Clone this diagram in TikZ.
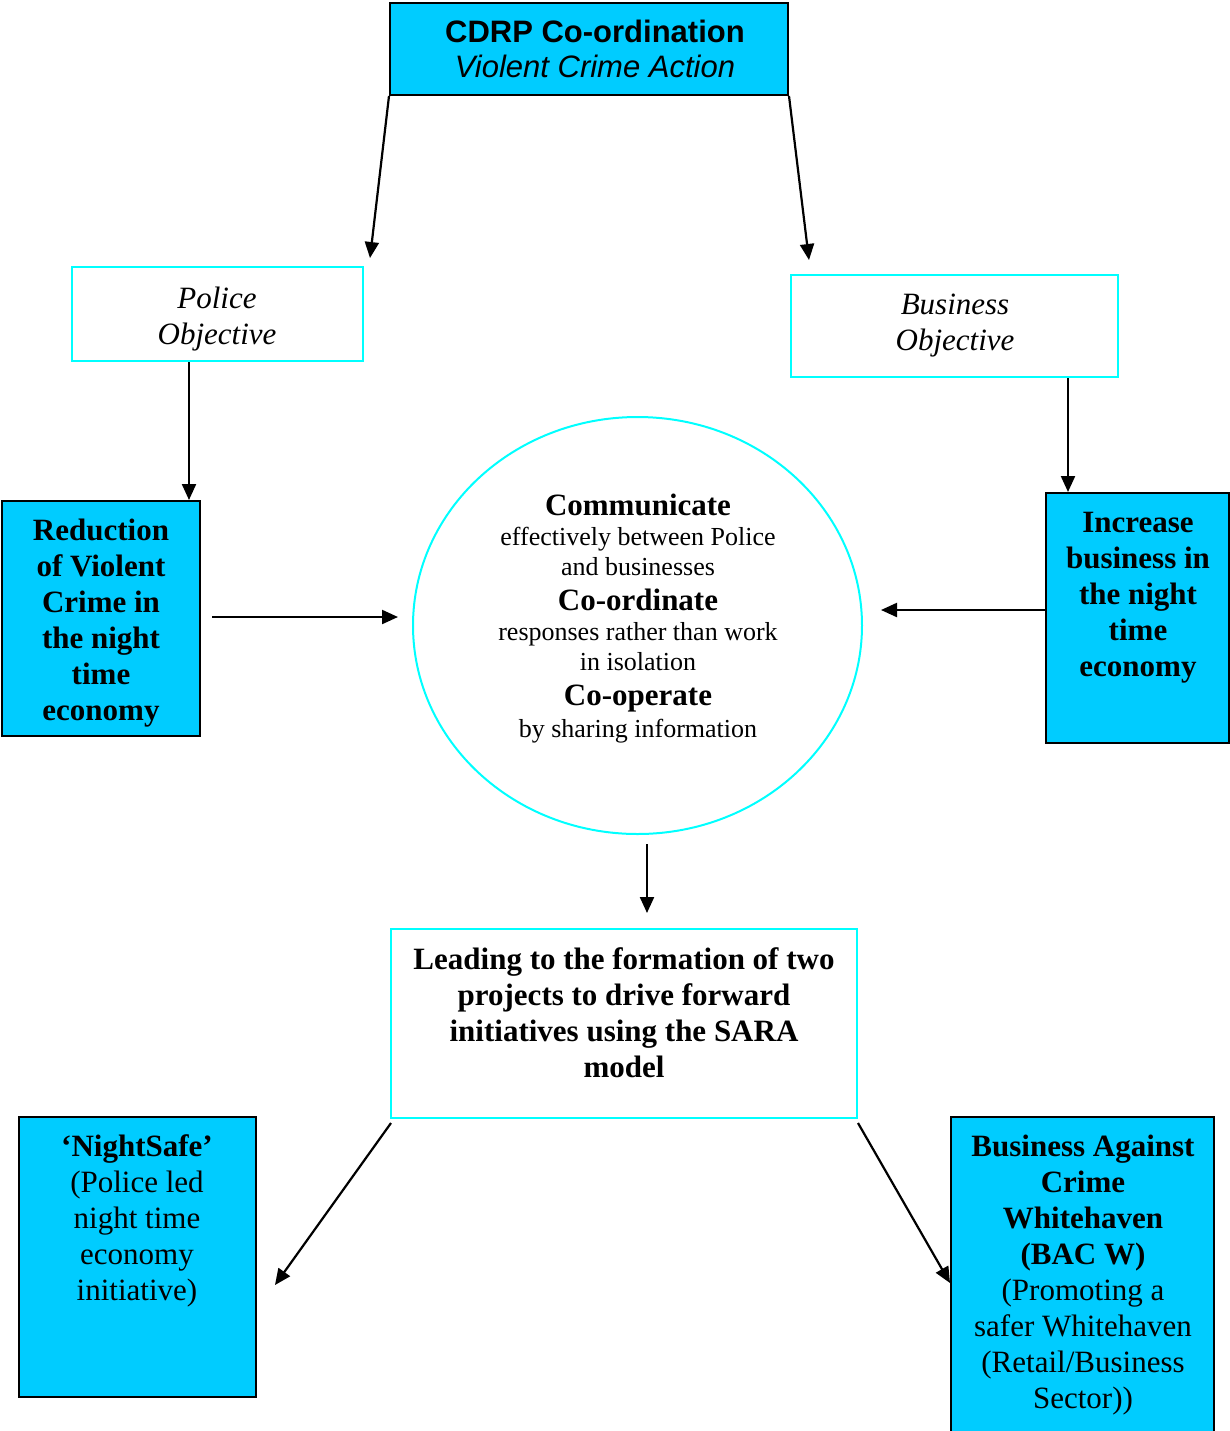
\documentclass[tikz,border=0pt]{standalone}
\usepackage{fontspec}
\setmainfont{Liberation Serif}
\newfontfamily\arialfont{Liberation Sans}
\usetikzlibrary{shapes.geometric,fit,arrows.meta}
\definecolor{boxblue}{RGB}{0,204,255}
\definecolor{lcyan}{RGB}{0,255,255}
\begin{document}
\begin{tikzpicture}[x=0.5pt,y=-0.5pt,
  bluebox/.style={draw=black, line width=1pt, fill=boxblue, inner sep=0pt},
  cyanbox/.style={draw=lcyan, line width=1pt, fill=white, inner sep=0pt},
  txt/.style={anchor=north, align=center, inner sep=0pt, font=\fontsize{15.5}{18}\selectfont},
  arr/.style={line width=1.1pt, -{Triangle[length=8pt,width=7pt]}}]
\useasboundingbox[fill=white] (0,0) rectangle (1230,1431);
\begin{scope}
\clip (0,0) rectangle (1230,1431);
% boxes
\node[bluebox, fit={(390,3) (788,95)}] (top) {};
\node[txt, font=\arialfont\fontsize{15.5}{17.5}\selectfont] (toptxt) at (595,20)
  {{\bfseries CDRP Co-ordination}\\{\itshape Violent Crime Action}};

\node[cyanbox, fit={(72,267) (363,361)}] (pobj) {};
\node[txt, font=\itshape\fontsize{15.5}{18}\selectfont] (pobjtxt) at (217,287) {Police\\Objective};

\node[cyanbox, fit={(791,275) (1118,377)}] (bobj) {};
\node[txt, font=\itshape\fontsize{15.5}{18}\selectfont] (bobjtxt) at (955,294) {Business\\Objective};

\node[bluebox, fit={(2,501) (200,736)}] (red) {};
\node[txt, font=\bfseries\fontsize{15.5}{18}\selectfont] (redtxt) at (101,519)
  {Reduction\\of Violent\\Crime in\\the night\\time\\economy};

\node[bluebox, fit={(1046,493) (1229,743)}] (inc) {};
\node[txt, font=\bfseries\fontsize{15.5}{18}\selectfont] (inctxt) at (1138,512)
  {Increase\\business in\\the night\\time\\economy};

\node[ellipse, draw=lcyan, line width=1pt, fill=white, inner sep=0pt,
  minimum width=224.5pt, minimum height=208.5pt] (circ) at (637.5,625.5) {};
\node[txt, font=\fontsize{13}{15}\selectfont] (circtxt) at (638,494)
  {{\bfseries\fontsize{15.5}{15}\selectfont Communicate}\\
   effectively between Police\\
   and businesses\\[2.5pt]
   {\bfseries\fontsize{15.5}{15}\selectfont Co-ordinate}\\
   responses rather than work\\
   in isolation\\[2.5pt]
   {\bfseries\fontsize{15.5}{15}\selectfont Co-operate}\\[1pt]
   by sharing information};

\node[cyanbox, fit={(391,929) (857,1118)}] (lead) {};
\node[txt, font=\bfseries\fontsize{15.5}{18}\selectfont] (leadtxt) at (624,947)
  {Leading to the formation of two\\projects to drive forward\\initiatives using the SARA\\model};

\node[bluebox, fit={(19,1117) (256,1397)}] (night) {};
\node[txt] (nighttxt) at (137,1134)
  {{\bfseries ‘NightSafe’}\\(Police led\\night time\\economy\\initiative)};

\node[bluebox, fit={(951,1117) (1214,1460)}] (bac) {};
\node[txt] (bactxt) at (1083,1135)
  {{\bfseries Business Against}\\{\bfseries Crime}\\{\bfseries Whitehaven}\\{\bfseries (BAC W)}\\(Promoting a\\safer Whitehaven\\(Retail/Business\\Sector))};
\end{scope}

% connectors
\coordinate (e1) at (370,258);
\coordinate (e2) at (809,260);
\coordinate (c3) at (189,0);
\coordinate (c4) at (1068,0);
\coordinate (s5) at (212,617);
\coordinate (e5) at (398,617);
\coordinate (e6) at (881,610);
\coordinate (s7) at (647,844);
\coordinate (e7) at (647,913);
\coordinate (s8) at (391,1123);
\coordinate (e8) at (275,1285);
\coordinate (s9) at (858,1123);
\coordinate (e9) at (951,1283);

\draw[arr] (top.south west) -- (e1);
\draw[arr] (top.south east) -- (e2);
\draw[arr] (c3 |- pobj.south) -- (c3 |- red.north);
\draw[arr] (c4 |- bobj.south) -- (c4 |- inc.north);
\draw[arr] (s5) -- (e5);
\draw[arr] (e6 -| inc.west) -- (e6);
\draw[arr] (s7) -- (e7);
\draw[arr] (s8) -- (e8);
\draw[arr] (s9) -- (e9 -| bac.west);
\end{tikzpicture}
\end{document}
